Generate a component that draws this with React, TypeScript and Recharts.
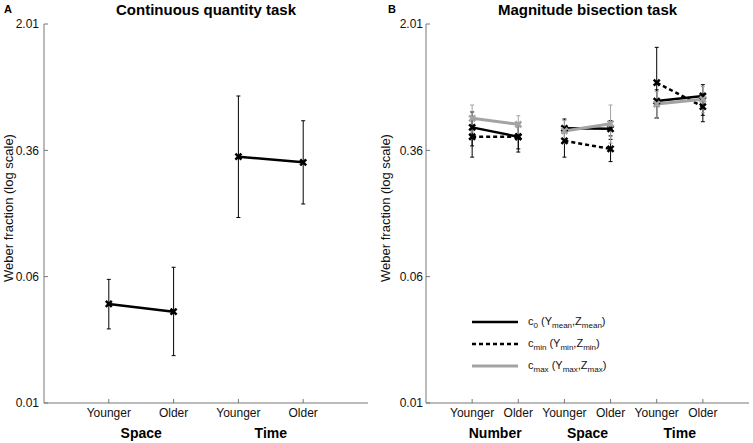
import React from 'react';
import { LineChart, Line, XAxis, YAxis, ErrorBar, Legend } from 'recharts';

// shared y axis (log scale, ticks evenly spaced in log units)
const yDomain = [0.01, 2.01];
const yTicks = [0.01, 0.0586, 0.343, 2.01];
const yTickLabels = ['0.01', '0.06', '0.36', '2.01'];

// A: continuous quantity task
const cqAges = ['Younger', 'Older', 'Younger', 'Older'];
const cqGroups = ['Space', 'Time'];
const cqMean = [0.04, 0.0359, 0.314, 0.29];
const cqLow = [0.0282, 0.0194, 0.134, 0.162];
const cqHigh = [0.0564, 0.0668, 0.734, 0.519];

// B: magnitude bisection task
const mbAges = ['Younger', 'Older', 'Younger', 'Older', 'Younger', 'Older'];
const mbGroups = ['Number', 'Space', 'Time'];
const c0Mean = [0.473, 0.415, 0.467, 0.464, 0.684, 0.734];
const c0Low = [0.365, 0.35, 0.4, 0.4, 0.54, 0.56];
const c0High = [0.587, 0.49, 0.532, 0.52, 0.8, 0.86];
const cminMean = [0.415, 0.415, 0.392, 0.35, 0.884, 0.632];
const cminLow = [0.312, 0.335, 0.312, 0.293, 0.537, 0.512];
const cminHigh = [0.525, 0.5, 0.48, 0.42, 1.45, 0.76];
const cmaxMean = [0.537, 0.494, 0.45, 0.498, 0.656, 0.701];
const cmaxLow = [0.443, 0.42, 0.38, 0.38, 0.537, 0.58];
const cmaxHigh = [0.647, 0.557, 0.52, 0.647, 0.78, 0.836];

const legendSubs = ['0', 'min', 'max'];
const legendArgSubs = ['mean', 'min', 'max'];

const FONT = '"Liberation Sans", Arial, Helvetica, sans-serif';
const AXIS = '#777';
const GRAY = '#a3a3a3';

// split a series into Younger/Older pairs, one segment per group
const segments = (mean: number[], low: number[], high: number[]) => {
  const out: any[][] = [];
  for (let g = 0; g < mean.length / 2; g++) {
    out.push([0, 1].map((k) => {
      const i = g * 2 + k;
      return { x: i + 1, y: mean[i], err: [mean[i] - low[i], high[i] - mean[i]] };
    }));
  }
  return out;
};

const xMark = (color: string) => (props: any) => {
  const { cx, cy, index } = props;
  if (cx == null || cy == null) return <g key={`m-${index}`} />;
  const s = 3;
  return (
    <path
      key={`m-${index}`}
      d={`M${cx - s},${cy - s}L${cx + s},${cy + s}M${cx - s},${cy + s}L${cx + s},${cy - s}`}
      stroke={color}
      strokeWidth={2.5}
      fill="none"
    />
  );
};

const renderSeries = (name: string, segs: any[][], color: string, dash?: string, width = 2.5) =>
  segs.map((seg, g) => (
    <Line
      key={`${name}-${g}`}
      data={seg}
      dataKey="y"
      stroke={color}
      strokeWidth={width}
      strokeDasharray={dash}
      dot={xMark(color)}
      activeDot={false}
      isAnimationActive={false}
      legendType="none"
    >
      <ErrorBar dataKey="err" direction="y" width={2} stroke={color} strokeWidth={1} />
    </Line>
  ));

// invisible copy bound to the top/right axes so the frame gets its tick marks
const frameSeries = (seg: any[]) => (
  <Line
    key="frame"
    data={seg}
    dataKey="y"
    xAxisId="top"
    yAxisId="right"
    stroke="none"
    dot={false}
    activeDot={false}
    isAnimationActive={false}
    legendType="none"
  />
);

// ages on the integer ticks, group names on the half ticks
const makeTick = (ages: string[], groups: string[]) => (props: any) => {
  const { x, y, payload } = props;
  const v = payload.value;
  if (Number.isInteger(v)) {
    return (
      <g>
        <line x1={x} x2={x} y1={y} y2={y - 4} stroke={AXIS} />
        <text x={x} y={y + 14} textAnchor="middle" fontSize={12} fill="#111" fontFamily={FONT}>{ages[v - 1]}</text>
      </g>
    );
  }
  return (
    <text x={x} y={y + 35} textAnchor="middle" fontSize={14} fontWeight="bold" fill="#000" fontFamily={FONT}>
      {groups[Math.round((v - 1.5) / 2)]}
    </text>
  );
};

const axes = (n: number, ages: string[], groups: string[], yTickMargin: number) => {
  const ticks = ages.map((_, i) => i + 1);
  const allTicks = [...ticks, ...groups.map((_, g) => g * 2 + 1.5)].sort((a, b) => a - b);
  return [
    <XAxis
      key="x"
      type="number"
      dataKey="x"
      domain={[0, n + 1]}
      allowDataOverflow
      ticks={allTicks}
      interval={0}
      tickLine={false}
      tickSize={0}
      tickMargin={0}
      height={40}
      stroke={AXIS}
      tick={makeTick(ages, groups)}
    />,
    <XAxis
      key="top"
      xAxisId="top"
      orientation="top"
      type="number"
      dataKey="x"
      domain={[0, n + 1]}
      allowDataOverflow
      ticks={ticks}
      interval={0}
      tickFormatter={() => ''}
      tickSize={-4}
      height={0}
      stroke={AXIS}
    />,
    <YAxis
      key="y"
      type="number"
      scale="log"
      domain={yDomain}
      allowDataOverflow
      ticks={yTicks}
      interval={0}
      tickFormatter={(_: number, i: number) => yTickLabels[i]}
      tickSize={-4}
      tickMargin={yTickMargin}
      width={40}
      stroke={AXIS}
      tick={{ fill: '#111', fontSize: 12, fontFamily: FONT }}
    />,
    <YAxis
      key="yr"
      yAxisId="right"
      orientation="right"
      type="number"
      scale="log"
      domain={yDomain}
      allowDataOverflow
      ticks={yTicks}
      interval={0}
      tickFormatter={() => ''}
      tickSize={-4}
      width={0}
      stroke={AXIS}
    />,
  ];
};

const LegendBox = () => (
  <svg width={180} height={64} style={{ display: 'block', fontFamily: FONT }}>
    {legendSubs.map((sub, i) => {
      const y = 10 + i * 22;
      const color = i === 2 ? GRAY : '#000';
      return (
        <g key={sub}>
          <line x1={0} x2={46} y1={y} y2={y} stroke={color} strokeWidth={i === 2 ? 3 : 2.5} strokeDasharray={i === 1 ? '4 3' : undefined} />
          <text x={56} y={y + 3} fontSize={11} fill="#111">
            c<tspan fontSize={8} dy={3}>{sub}</tspan>
            <tspan dy={-3}> (Y</tspan>
            <tspan fontSize={8} dy={3}>{legendArgSubs[i]}</tspan>
            <tspan dy={-3}>,Z</tspan>
            <tspan fontSize={8} dy={3}>{legendArgSubs[i]}</tspan>
            <tspan dy={-3}>)</tspan>
          </text>
        </g>
      );
    })}
  </svg>
);

export default function App() {
  const cqSegs = segments(cqMean, cqLow, cqHigh);
  const c0Segs = segments(c0Mean, c0Low, c0High);
  return (
    <div style={{ position: 'absolute', left: 0, top: 0, width: 753, height: 443, background: '#fff', fontFamily: FONT }}>
      <div style={{ position: 'absolute', left: 0, top: 0 }}>
        <LineChart width={376} height={443} margin={{ top: 24, right: 8, bottom: 0, left: 4 }}>
          {axes(4, cqAges, cqGroups, 9)}
          {frameSeries(cqSegs[0])}
          {renderSeries('cq', cqSegs, '#000')}
        </LineChart>
      </div>
      <div style={{ position: 'absolute', left: 376, top: 0 }}>
        <LineChart width={377} height={443} margin={{ top: 24, right: 4, bottom: 0, left: 10 }}>
          {axes(6, mbAges, mbGroups, 7)}
          {frameSeries(c0Segs[0])}
          {renderSeries('c0', c0Segs, '#000')}
          {renderSeries('cmin', segments(cminMean, cminLow, cminHigh), '#000', '4 3')}
          {renderSeries('cmax', segments(cmaxMean, cmaxLow, cmaxHigh), GRAY, undefined, 3)}
          <Legend
            layout="vertical"
            align="center"
            verticalAlign="middle"
            wrapperStyle={{ left: 96, top: 312, width: 180 }}
            content={() => <LegendBox />}
          />
        </LineChart>
      </div>
      <svg width={753} height={443} style={{ position: 'absolute', left: 0, top: 0, pointerEvents: 'none' }} fontFamily={FONT}>
        <text x={4} y={13} fontSize={11} fontWeight="bold">A</text>
        <text x={388} y={13} fontSize={11} fontWeight="bold">B</text>
        <text x={206} y={15} fontSize={15} fontWeight="bold" textAnchor="middle">Continuous quantity task</text>
        <text x={587.5} y={15} fontSize={15} fontWeight="bold" textAnchor="middle">Magnitude bisection task</text>
        <text transform="translate(13,208) rotate(-90)" fontSize={13} textAnchor="middle" fill="#111">Weber fraction (log scale)</text>
        <text transform="translate(390,208) rotate(-90)" fontSize={13} textAnchor="middle" fill="#111">Weber fraction (log scale)</text>
      </svg>
    </div>
  );
}
